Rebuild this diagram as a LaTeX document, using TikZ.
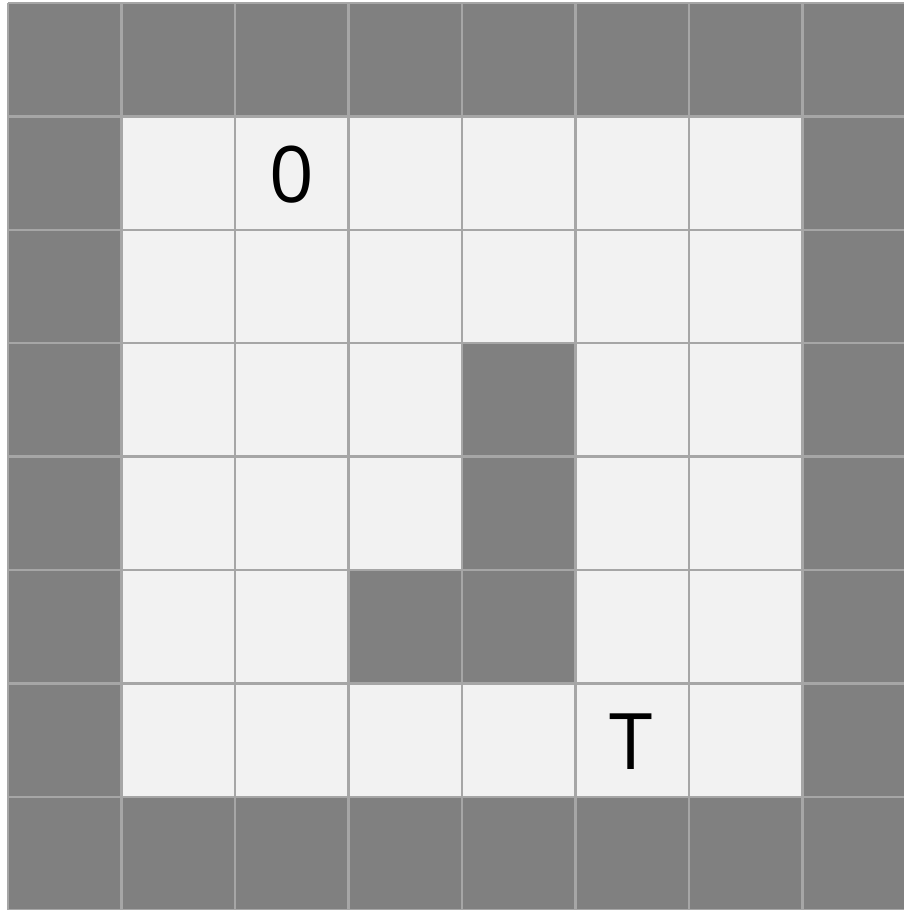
\documentclass[tikz,border=0pt]{standalone}
\usepackage{fontspec}
\setmainfont{Open Sans}
\definecolor{wall}{HTML}{808080}
\definecolor{floor}{HTML}{F2F2F2}
\definecolor{gridc}{HTML}{A6A6A6}
\tikzset{
  cell/.style={draw=gridc, line width=2.5pt},
  lbl/.style={font=\fontsize{78}{82}\selectfont, text=black, inner sep=0pt}
}
\begin{document}
\begin{tikzpicture}[x=1pt,y=-1pt]
\useasboundingbox[fill=white] (0,0) rectangle (904,910);
\begin{scope}
\clip (0,0) rectangle (904,910);
\foreach \r in {0,...,7}{
  \foreach \c in {0,...,7}{
    \pgfmathtruncatemacro{\w}{(\r==0 || \r==7 || \c==0 || \c==7) ? 1 : 0}
    \pgfmathtruncatemacro{\ww}{((\r==3 || \r==4 || \r==5) && \c==4) || (\r==5 && \c==3) ? 1 : 0}
    \ifnum\numexpr\w+\ww\relax>0
      \fill[wall] ({8+113.5*\c},{3+113.4*\r}) rectangle ++(113.5,113.4);
    \else
      \fill[floor] ({8+113.5*\c},{3+113.4*\r}) rectangle ++(113.5,113.4);
    \fi
  }
}
\foreach \c in {0,...,8}{
  \draw[cell] ({8+113.5*\c},3) -- ({8+113.5*\c},{3+113.4*8});
}
\foreach \r in {0,...,8}{
  \draw[cell] (8,{3+113.4*\r}) -- ({8+113.5*8},{3+113.4*\r});
}
\end{scope}
\node[lbl] (start) at (291.5,175) {0};
\node[lbl] (target) at (631,742) {T};
\end{tikzpicture}
\end{document}
